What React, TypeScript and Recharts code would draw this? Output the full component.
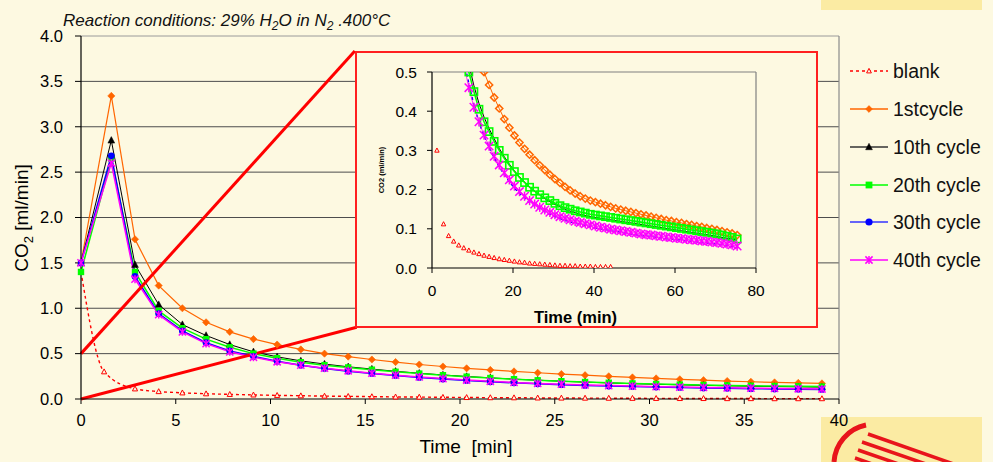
import React from 'react';
import { LineChart, Line, XAxis, YAxis, CartesianGrid, ReferenceLine } from 'recharts';

const BG = '#FDF9E1';
const FONT = '"Liberation Sans", Arial, Helvetica, sans-serif';

// ---- data (time in min, CO2 in ml/min) ----
const tCycles = [0, 1.6, 2.85, 4.1, 5.35, 6.6, 7.85, 9.1, 10.35, 11.6, 12.85, 14.1, 15.35, 16.6, 17.85, 19.1, 20.35, 21.6, 22.85, 24.1, 25.35, 26.6, 27.85, 29.1, 30.35, 31.6, 32.85, 34.1, 35.35, 36.6, 37.85, 39.1, 40.35, 41.6, 42.85, 44.1, 45.35, 46.6, 47.85, 49.1, 50.35, 51.6, 52.85, 54.1, 55.35, 56.6, 57.85, 59.1, 60.35, 61.6, 62.85, 64.1, 65.35, 66.6, 67.85, 69.1, 70.35, 71.6, 72.85, 74.1, 75.35];

const cycle1 = [1.5, 3.34, 1.76, 1.25, 1.0, 0.845, 0.74, 0.66, 0.6, 0.546,
  0.5, 0.467, 0.435, 0.407, 0.38, 0.358, 0.338, 0.32, 0.304, 0.289,
  0.275, 0.262, 0.25, 0.238, 0.227, 0.217, 0.207, 0.198, 0.19, 0.183,
  0.177, 0.172, 0.168, 0.164, 0.16, 0.156, 0.152, 0.149, 0.146, 0.143,
  0.14, 0.137, 0.134, 0.131, 0.128, 0.125, 0.122, 0.12, 0.117, 0.115,
  0.112, 0.11, 0.107, 0.105, 0.102, 0.1, 0.097, 0.094, 0.091, 0.088,
  0.084];

const cycle10 = [1.5, 2.85, 1.48, 1.04, 0.82, 0.7, 0.6, 0.52, 0.465, 0.42,
  0.385, 0.355, 0.33, 0.305, 0.284, 0.265, 0.248, 0.233, 0.219, 0.207,
  0.196, 0.186, 0.177, 0.169, 0.162, 0.156, 0.15, 0.145, 0.141, 0.137,
  0.134, 0.131, 0.129, 0.127, 0.125, 0.123, 0.121, 0.119, 0.117, 0.115,
  0.113, 0.111, 0.109, 0.107, 0.105, 0.103, 0.101, 0.099, 0.097, 0.095,
  0.093, 0.091, 0.089, 0.087, 0.085, 0.083, 0.081, 0.078, 0.076, 0.074,
  0.071];

const cycle20 = [1.4, 2.65, 1.4, 0.97, 0.78, 0.66, 0.57, 0.5, 0.45, 0.405,
  0.373, 0.348, 0.323, 0.3, 0.28, 0.262, 0.246, 0.231, 0.218, 0.206,
  0.196, 0.187, 0.179, 0.172, 0.165, 0.159, 0.154, 0.15, 0.146, 0.143,
  0.14, 0.137, 0.135, 0.133, 0.131, 0.129, 0.127, 0.125, 0.123, 0.121,
  0.119, 0.117, 0.115, 0.113, 0.111, 0.109, 0.107, 0.105, 0.103, 0.101,
  0.099, 0.097, 0.095, 0.093, 0.091, 0.089, 0.087, 0.084, 0.081, 0.078,
  0.074];

const cycle30 = [1.5, 2.68, 1.35, 0.94, 0.75, 0.62, 0.53, 0.47, 0.415, 0.372,
  0.337, 0.307, 0.281, 0.258, 0.238, 0.22, 0.204, 0.19, 0.178, 0.167,
  0.158, 0.15, 0.143, 0.137, 0.131, 0.126, 0.122, 0.118, 0.114, 0.111,
  0.108, 0.105, 0.102, 0.1, 0.098, 0.095, 0.093, 0.091, 0.089, 0.087,
  0.085, 0.083, 0.081, 0.08, 0.078, 0.077, 0.075, 0.074, 0.072, 0.071,
  0.069, 0.068, 0.067, 0.065, 0.064, 0.062, 0.061, 0.059, 0.057, 0.055,
  0.052];

const cycle40 = [1.5, 2.6, 1.32, 0.93, 0.74, 0.61, 0.52, 0.46, 0.41, 0.373,
  0.339, 0.311, 0.285, 0.263, 0.243, 0.225, 0.209, 0.195, 0.183, 0.172,
  0.163, 0.155, 0.148, 0.142, 0.136, 0.131, 0.127, 0.123, 0.119, 0.116,
  0.113, 0.11, 0.107, 0.104, 0.102, 0.099, 0.097, 0.095, 0.093, 0.091,
  0.089, 0.087, 0.085, 0.084, 0.082, 0.081, 0.079, 0.078, 0.076, 0.075,
  0.073, 0.072, 0.071, 0.069, 0.068, 0.066, 0.065, 0.063, 0.061, 0.059,
  0.056];

const tBlank = [0, 1.22, 2.85, 4.1, 5.35, 6.6, 7.85, 9.1, 10.35, 11.6, 12.85, 14.1, 15.35, 16.6, 17.85, 19.1, 20.35, 21.6, 22.85, 24.1, 25.35, 26.6, 27.85, 29.1, 30.35, 31.6, 32.85, 34.1, 35.35, 36.6, 37.85, 39.1, 40.35, 41.6, 42.85, 44.1];
const blank = [1.4, 0.3, 0.112, 0.082, 0.068, 0.058, 0.051, 0.045, 0.04, 0.036,
  0.032, 0.029, 0.026, 0.023, 0.021, 0.019, 0.017, 0.015, 0.014, 0.012,
  0.011, 0.01, 0.009, 0.008, 0.007, 0.006, 0.006, 0.005, 0.005, 0.004,
  0.004, 0.004, 0.003, 0.003, 0.003, 0.003];

const xTicksMain = [0, 5, 10, 15, 20, 25, 30, 35, 40];
const yTicksMain = [0, 0.5, 1.0, 1.5, 2.0, 2.5, 3.0, 3.5, 4.0];
const gridMain = [0.5, 1.0, 1.5, 2.0, 2.5, 3.0, 3.5];
const xTicksInset = [0, 20, 40, 60, 80];
const yTicksInset = [0, 0.1, 0.2, 0.3, 0.4, 0.5];

const legendNames = ['blank', '1stcycle', '10th cycle', '20th cycle', '30th cycle', '40th cycle'];

type Pt = { t: number; v: number };
const toPoints = (ts: number[], vs: number[]): Pt[] => ts.map((t, i) => ({ t, v: vs[i] }));

type Kind = 'diamond' | 'odiamond' | 'triangle' | 'otri' | 'square' | 'osquare' | 'circle' | 'asterisk' | 'none';

function Marker({ kind, cx, cy, color, s }: { kind: Kind; cx: number; cy: number; color: string; s: number }) {
  if (cx == null || cy == null || isNaN(cx) || isNaN(cy) || kind === 'none') return <g />;
  switch (kind) {
    case 'diamond':
      return <polygon points={`${cx},${cy - s} ${cx + s},${cy} ${cx},${cy + s} ${cx - s},${cy}`} fill={color} stroke={color} strokeWidth={0.6} />;
    case 'odiamond':
      return <polygon points={`${cx},${cy - s} ${cx + s},${cy} ${cx},${cy + s} ${cx - s},${cy}`} fill="none" stroke={color} strokeWidth={1.5} />;
    case 'triangle':
      return <polygon points={`${cx},${cy - s * 1.1} ${cx + s},${cy + s * 0.8} ${cx - s},${cy + s * 0.8}`} fill={color} stroke={color} strokeWidth={0.5} />;
    case 'otri':
      return <polygon points={`${cx},${cy - s * 1.1} ${cx + s},${cy + s * 0.8} ${cx - s},${cy + s * 0.8}`} fill={BG} stroke={color} strokeWidth={1} />;
    case 'square':
      return <rect x={cx - s} y={cy - s} width={2 * s} height={2 * s} fill={color} />;
    case 'osquare':
      return <rect x={cx - s} y={cy - s} width={2 * s} height={2 * s} fill="none" stroke={color} strokeWidth={1.6} />;
    case 'circle':
      return <circle cx={cx} cy={cy} r={s} fill={color} />;
    case 'asterisk':
      return (
        <g stroke={color} strokeWidth={1.5}>
          <line x1={cx - s} y1={cy - s} x2={cx + s} y2={cy + s} />
          <line x1={cx - s} y1={cy + s} x2={cx + s} y2={cy - s} />
          <line x1={cx} y1={cy - s * 1.1} x2={cx} y2={cy + s * 1.1} />
        </g>
      );
    default:
      return <g />;
  }
}

type SeriesCfg = {
  name: string;
  points: Pt[];
  color: string;
  legendLine: string;
  mainWidth: number;
  mainDash?: string;
  mainKind: Kind;
  mainS: number;
  insetWidth: number;
  insetDash?: string;
  insetKind: Kind;
  insetS: number;
  curve: 'linear' | 'monotone';
  legendKind: Kind;
  legendS: number;
  legendDash?: string;
};

const series: SeriesCfg[] = [
  { name: legendNames[0], points: toPoints(tBlank, blank), color: '#FF0000', legendLine: '#FF0000', mainWidth: 1.4, mainDash: '3 3', mainKind: 'otri', mainS: 2.6, insetWidth: 0, insetKind: 'otri', insetS: 2.2, curve: 'monotone', legendKind: 'otri', legendS: 2.4, legendDash: '3 3' },
  { name: legendNames[1], points: toPoints(tCycles, cycle1), color: '#FF6600', legendLine: '#FF6600', mainWidth: 1.2, mainKind: 'diamond', mainS: 3.6, insetWidth: 1, insetKind: 'odiamond', insetS: 3.6, curve: 'linear', legendKind: 'diamond', legendS: 3.4 },
  { name: legendNames[2], points: toPoints(tCycles, cycle10), color: '#000000', legendLine: '#333333', mainWidth: 1, mainKind: 'triangle', mainS: 3.4, insetWidth: 1, insetKind: 'none', insetS: 0, curve: 'linear', legendKind: 'triangle', legendS: 3.4 },
  { name: legendNames[3], points: toPoints(tCycles, cycle20), color: '#00FF00', legendLine: '#00FF00', mainWidth: 1.5, mainKind: 'square', mainS: 3.2, insetWidth: 1.6, insetKind: 'osquare', insetS: 3.6, curve: 'linear', legendKind: 'square', legendS: 3.4 },
  { name: legendNames[4], points: toPoints(tCycles, cycle30), color: '#0000FF', legendLine: '#3333FF', mainWidth: 1.5, mainKind: 'circle', mainS: 3.4, insetWidth: 1.5, insetDash: '3 3', insetKind: 'none', insetS: 0, curve: 'linear', legendKind: 'circle', legendS: 3.6 },
  { name: legendNames[5], points: toPoints(tCycles, cycle40), color: '#FF00FF', legendLine: '#FF00FF', mainWidth: 1.5, mainKind: 'asterisk', mainS: 3.6, insetWidth: 0.8, insetKind: 'asterisk', insetS: 4.2, curve: 'linear', legendKind: 'asterisk', legendS: 3.6 },
];

const dotFn = (kind: Kind, color: string, s: number) => (p: any) => (
  <Marker key={`m-${p.index}-${p.cx}`} kind={kind} cx={p.cx} cy={p.cy} color={color} s={s} />
);

const tickStyleMain = { fill: '#000', fontSize: 16.5, fontFamily: FONT };
const tickStyleInset = { fill: '#000', fontSize: 15.5, fontFamily: FONT };

function MainChart() {
  return (
    <LineChart width={993} height={462} margin={{ top: 36, right: 154, bottom: 0, left: 0 }}>
      <CartesianGrid vertical={false} horizontalValues={gridMain} stroke="#4d4d4d" strokeWidth={1} />
      <ReferenceLine y={4} stroke="#9a9a9a" strokeWidth={1} />
      <ReferenceLine x={40} stroke="#8a8a8a" strokeWidth={1.2} />
      <XAxis type="number" dataKey="t" domain={[0, 40]} ticks={xTicksMain} interval={0} height={63}
        tickSize={5} tickMargin={10} axisLine={{ stroke: '#000', strokeWidth: 1.2 }} tickLine={{ stroke: '#000' }} tick={tickStyleMain} />
      <YAxis type="number" domain={[0, 4]} ticks={yTicksMain} interval={0} width={81}
        tickSize={6} tickMargin={12} tickFormatter={(v: number) => v.toFixed(1)}
        axisLine={{ stroke: '#000', strokeWidth: 1.2 }} tickLine={{ stroke: '#000' }} tick={tickStyleMain} />
      {series.map((s) => (
        <Line key={s.name} data={s.points.filter((p) => p.t <= 40)} dataKey="v" name={s.name}
          type={s.curve} stroke={s.color} strokeWidth={s.mainWidth} strokeDasharray={s.mainDash}
          dot={dotFn(s.mainKind, s.color, s.mainS)} activeDot={false} isAnimationActive={false} />
      ))}
      <ReferenceLine segment={[{ x: 0, y: 0.5 }, { x: 14.45, y: 3.835 }]} stroke="#FF0000" strokeWidth={3} ifOverflow="visible" />
      <ReferenceLine segment={[{ x: 0, y: 0 }, { x: 14.55, y: 0.79 }]} stroke="#FF0000" strokeWidth={3} ifOverflow="visible" />
    </LineChart>
  );
}

function InsetChart() {
  return (
    <LineChart width={459} height={273} margin={{ top: 19, right: 60, bottom: 0, left: 0 }}>
      <ReferenceLine y={0.5} stroke="#808080" strokeWidth={1.2} />
      <ReferenceLine x={80} stroke="#808080" strokeWidth={1.2} />
      <XAxis type="number" dataKey="t" domain={[0, 80]} ticks={xTicksInset} interval={0} height={58}
        tickSize={5} tickMargin={12} axisLine={{ stroke: '#000', strokeWidth: 1.2 }} tickLine={{ stroke: '#000' }} tick={tickStyleInset} />
      <YAxis type="number" domain={[0, 0.5]} allowDataOverflow ticks={yTicksInset} interval={0} width={75}
        tickSize={5} tickMargin={10} tickFormatter={(v: number) => v.toFixed(1)}
        axisLine={{ stroke: '#000', strokeWidth: 1.2 }} tickLine={{ stroke: '#000' }} tick={tickStyleInset} />
      {series.map((s) => (
        <Line key={s.name} data={s.points} dataKey="v" name={s.name} type="linear"
          stroke={s.insetWidth > 0 ? s.color : 'none'} strokeWidth={s.insetWidth} strokeDasharray={s.insetDash}
          dot={s.insetKind === 'none' ? false : dotFn(s.insetKind, s.color, s.insetS)} activeDot={false} isAnimationActive={false} />
      ))}
    </LineChart>
  );
}

function Overlay() {
  const rowY = [71, 109, 147, 185, 222, 260];
  return (
    <svg width={993} height={462} style={{ position: 'absolute', left: 0, top: 0, pointerEvents: 'none' }}>
      <text x={63} y={26} fontFamily={FONT} fontStyle="italic" fontSize={17} fill="#111">
        Reaction conditions: 29% H<tspan dy={4} fontSize={12}>2</tspan><tspan dy={-4}>O in N</tspan><tspan dy={4} fontSize={12}>2</tspan><tspan dy={-4}> .400°C</tspan>
      </text>
      <text x={28} y={218} transform="rotate(-90 28 218)" textAnchor="middle" fontFamily={FONT} fontSize={19} fill="#000">
        CO<tspan dy={5} fontSize={13}>2</tspan><tspan dy={-5}> [ml/min]</tspan>
      </text>
      <text x={466} y={453} textAnchor="middle" fontFamily={FONT} fontSize={19} fill="#000" style={{ whiteSpace: 'pre' }}>
        {'Time  [min]'}
      </text>
      <text x={575.5} y={323} textAnchor="middle" fontFamily={FONT} fontWeight="bold" fontSize={16.5} fill="#000">Time (min)</text>
      <text x={384} y={170} transform="rotate(-90 384 170)" textAnchor="middle" fontFamily={FONT} fontWeight="bold" fontSize={7.5} fill="#000">CO2 (ml/min)</text>
      {series.map((s, i) => (
        <g key={s.name}>
          <line x1={850} x2={888} y1={rowY[i]} y2={rowY[i]} stroke={s.legendLine} strokeWidth={1.4} strokeDasharray={s.legendDash} />
          <Marker kind={s.legendKind} cx={869} cy={rowY[i]} color={s.color} s={s.legendS} />
          <text x={893} y={rowY[i] + 7} fontFamily={FONT} fontSize={19.5} fill="#111">{s.name}</text>
        </g>
      ))}
    </svg>
  );
}

function Decoration() {
  return (
    <svg width={993} height={462} style={{ position: 'absolute', left: 0, top: 0 }}>
      <rect x={821} y={0} width={161} height={10} fill="#FBEBA3" />
      <rect x={821} y={417} width={161} height={45} fill="#FBEBA3" />
      <path d="M 834 462 A 40 40 0 0 1 866 425" stroke="#E8141B" strokeWidth={5} fill="none" />
      <g stroke="#E8141B" strokeWidth={3.5}>
        <line x1={868} y1={434} x2={965} y2={468} />
        <line x1={862} y1={442} x2={955} y2={474} />
        <line x1={858} y1={450} x2={945} y2={480} />
        <line x1={855} y1={458} x2={935} y2={486} />
      </g>
    </svg>
  );
}

export default function App() {
  return (
    <div style={{ position: 'absolute', left: 0, top: 0, width: 993, height: 462, background: BG, overflow: 'hidden' }}>
      <Decoration />
      <div style={{ position: 'absolute', left: 0, top: 0 }}>
        <MainChart />
      </div>
      <div style={{ position: 'absolute', left: 355, top: 51, width: 463, height: 277, boxSizing: 'border-box', border: '2px solid #FF2020', background: BG }}>
        <InsetChart />
      </div>
      <Overlay />
    </div>
  );
}
